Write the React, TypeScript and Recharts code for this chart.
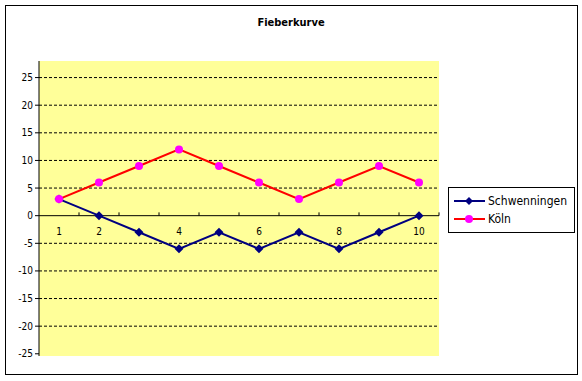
import React from "react";
import {
  LineChart,
  Line,
  XAxis,
  YAxis,
  CartesianGrid,
  ReferenceLine,
  ReferenceDot,
  Legend,
} from "recharts";

const days = [1, 2, 3, 4, 5, 6, 7, 8, 9, 10];
const dayLabels = ["1", "2", "", "4", "", "6", "", "8", "", "10"];
const seriesNames = ["Schwenningen", "Köln"];
const schwenningen = [3, 0, -3, -6, -3, -6, -3, -6, -3, 0];
const koeln = [3, 6, 9, 12, 9, 6, 3, 6, 9, 6];
const yTicks = [-25, -20, -15, -10, -5, 0, 5, 10, 15, 20, 25];
const gridValues = [-20, -15, -10, -5, 5, 10, 15, 20, 25];
const dayBounds = [1.5, 2.5, 3.5, 4.5, 5.5, 6.5, 7.5, 8.5, 9.5, 10.5];

const data = days.map((d, i) => ({
  day: d,
  Schwenningen: schwenningen[i],
  Köln: koeln[i],
}));

const FONT = "'DejaVu Sans Condensed', 'DejaVu Sans', sans-serif";
const NAVY = "#000080";
const RED = "#FF0000";
const MAGENTA = "#FF00FF";

function Diamond(props: any) {
  const { cx, cy } = props;
  if (cx == null || cy == null) return null;
  const s = 4.5;
  return (
    <polygon
      points={`${cx},${cy - s} ${cx + s},${cy} ${cx},${cy + s} ${cx - s},${cy}`}
      fill={NAVY}
    />
  );
}

function Circle(props: any) {
  const { cx, cy } = props;
  if (cx == null || cy == null) return null;
  return <circle cx={cx} cy={cy} r={4} fill={MAGENTA} />;
}

function LegendBox({ payload }: any) {
  const items = [...(payload || [])].sort(
    (a: any, b: any) => seriesNames.indexOf(a.value) - seriesNames.indexOf(b.value)
  );
  return (
    <div
      style={{
        border: "1px solid #000",
        background: "#fff",
        width: 127,
        height: 46,
        boxSizing: "border-box",
        padding: "4px 0 0 3px",
        fontFamily: FONT,
        fontSize: 12,
        textAlign: "left",
      }}
    >
      {items.map((p: any) => {
        const isS = p.value === "Schwenningen";
        return (
          <div key={p.value} style={{ display: "flex", alignItems: "center", height: 18 }}>
            <svg width={34} height={18}>
              <line x1={2} y1={9} x2={33} y2={9} stroke={isS ? NAVY : RED} strokeWidth={2} />
              {isS ? (
                <polygon points="17,5 21,9 17,13 13,9" fill={NAVY} />
              ) : (
                <circle cx={17} cy={9} r={4} fill={MAGENTA} />
              )}
            </svg>
            <span style={{ marginLeft: 2, color: "#000", whiteSpace: "nowrap" }}>{p.value}</span>
          </div>
        );
      })}
    </div>
  );
}

export default function App() {
  return (
    <div style={{ position: "absolute", left: 0, top: 0, width: 582, height: 381, background: "#fff" }}>
      <div
        style={{
          position: "absolute",
          left: 5,
          top: 5,
          width: 573,
          height: 370,
          border: "1px solid #000",
          boxSizing: "border-box",
        }}
      />
      <div
        style={{
          position: "absolute",
          left: 0,
          top: 16,
          width: 582,
          textAlign: "center",
          fontFamily: FONT,
          fontWeight: "bold",
          fontSize: 11,
          color: "#000",
        }}
      >
        Fieberkurve
      </div>
      <LineChart
        width={582}
        height={381}
        data={data}
        margin={{ top: 61, right: 143, bottom: 25, left: 9 }}
        style={{ position: "absolute", left: 0, top: 0 }}
      >
        <CartesianGrid
          vertical={false}
          horizontalValues={gridValues}
          stroke="#000"
          strokeDasharray="3 2"
          fill="#FFFF99"
          fillOpacity={1}
        />
        <XAxis dataKey="day" type="number" domain={[0.5, 10.5]} hide />
        <YAxis
          domain={[-25.4, 28]}
          allowDataOverflow
          ticks={yTicks}
          interval={0}
          width={30}
          tickSize={4}
          axisLine={{ stroke: "#000" }}
          tickLine={{ stroke: "#000" }}
          tick={{ fontSize: 10, fill: "#000", fontFamily: FONT }}
        />
        <ReferenceLine y={0} stroke="#000" strokeWidth={1} />
        {dayBounds.map((b) => (
          <ReferenceLine
            key={`b${b}`}
            segment={[
              { x: b, y: 0 },
              { x: b, y: 0.6 },
            ]}
            stroke="#000"
          />
        ))}
        {days.map((d, i) =>
          dayLabels[i] ? (
            <ReferenceDot
              key={`l${d}`}
              x={d}
              y={0}
              r={0}
              fill="none"
              stroke="none"
              label={{
                value: dayLabels[i],
                position: "bottom",
                offset: 12,
                fontSize: 10,
                fill: "#000",
                fontFamily: FONT,
              }}
            />
          ) : null
        )}
        <Line
          dataKey="Schwenningen"
          stroke={NAVY}
          strokeWidth={2}
          dot={<Diamond />}
          activeDot={false}
          isAnimationActive={false}
        />
        <Line
          dataKey="Köln"
          stroke={RED}
          strokeWidth={2}
          dot={<Circle />}
          activeDot={false}
          isAnimationActive={false}
        />
        <Legend
          layout="vertical"
          content={<LegendBox />}
          wrapperStyle={{
            position: "absolute",
            left: 448,
            top: 187,
            width: 0,
            height: 0,
            overflow: "visible",
          }}
        />
      </LineChart>
    </div>
  );
}
